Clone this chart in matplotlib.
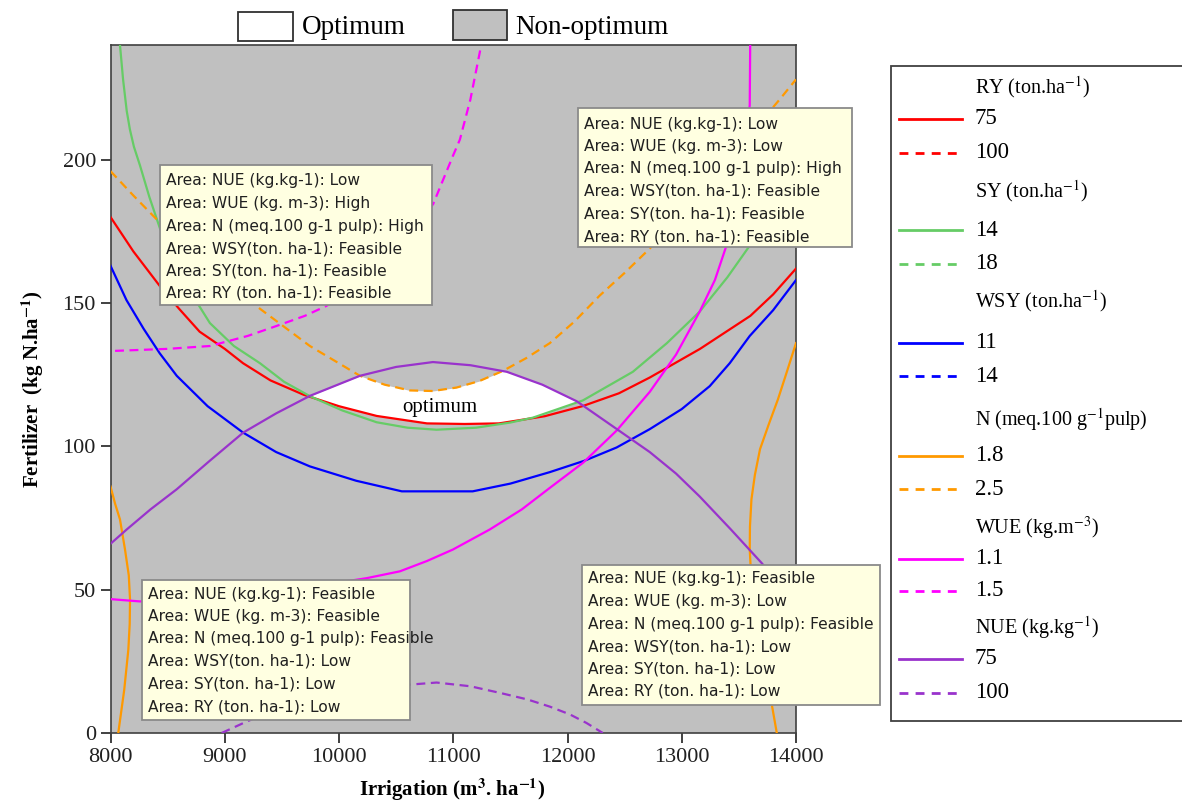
import numpy as np
import matplotlib
matplotlib.use('Agg')
import matplotlib.pyplot as plt
from matplotlib.patches import Rectangle
from matplotlib.lines import Line2D

plt.rcParams['font.family'] = 'Liberation Serif'
plt.rcParams['mathtext.fontset'] = 'stix'

# contour lines (irrigation, fertilizer)
ry75_x = [8000, 8200, 8430, 8600, 8780, 9000, 9160, 9400, 9690, 10000, 10330, 10770, 11100,
          11400, 11800, 12130, 12450, 12720, 13160, 13600, 13800, 14000]
ry75_y = [180, 168, 156, 148, 140, 134, 129, 123, 118, 114, 110.6, 108, 107.8,
          108, 110.5, 114, 118.5, 124, 134, 145.5, 153, 162]

sy14_x = [8075, 8083, 8110, 8142, 8170, 8205, 8258, 8340, 8433, 8650, 8870, 9080, 9308, 9520,
          9745, 10030, 10329, 10600, 10854, 11200, 11500, 11697, 12134, 12572, 12870, 13157,
          13400, 13595, 13800, 14000]
sy14_y = [245, 240, 228, 217, 210.5, 204.5, 198, 187, 176, 157, 143, 135, 129, 122.5,
          117.5, 112.5, 108.4, 106.5, 105.8, 106.5, 108.3, 110, 116, 126, 136, 147,
          159, 170, 182, 195]

wsy11_x = [8000, 8140, 8290, 8430, 8580, 8850, 9160, 9450, 9745, 10150, 10550, 11170, 11500,
           11845, 12150, 12430, 12720, 13000, 13245, 13420, 13595, 13800, 14000]
wsy11_y = [163, 151, 141, 132.5, 124.6, 114, 104.8, 98, 93, 88, 84.3, 84.3, 87,
           91, 95, 99.6, 106, 113, 121, 129, 138.5, 147.5, 158]

n18_left_x = [8000, 8040, 8083, 8127, 8160, 8171, 8168, 8156, 8120, 8068, 8060]
n18_left_y = [86, 80, 74.5, 64, 55, 46.5, 38, 29, 15, 0, -3]
n18_right_x = [14000, 13920, 13842, 13760, 13685, 13640, 13610, 13597, 13595, 13620, 13700,
               13770, 13832, 13838]
n18_right_y = [136, 126, 116.4, 107.5, 99, 90, 81.5, 72, 64, 45, 25, 14, 0, -2]

n25_x = [8000, 8200, 8433, 8870, 9308, 9745, 10183, 10400, 10620, 10820, 11029, 11230, 11434,
         11640, 11845, 12060, 12282, 12500, 12720, 13000, 13300, 13580, 13857, 14000]
n25_y = [196, 187.5, 178, 162, 148, 135, 124.6, 121.5, 119.5, 119.3, 120.5, 122.8, 126.3,
         130.8, 136, 143.5, 152.6, 160.5, 169, 181, 195, 208, 221, 228]

wue11_x = [8000, 8258, 9000, 9500, 10241, 10533, 10770, 10997, 11320, 11600, 11845, 12137,
           12430, 12720, 12950, 13157, 13290, 13391, 13530, 13595, 13600]
wue11_y = [46.7, 45.9, 47, 49.5, 54, 56.4, 60, 64, 71, 78, 85.5, 94.3,
           105.5, 119, 132, 147, 158, 170, 195, 219, 245]

wue15_x = [8040, 8500, 8870, 9200, 9454, 9700, 9891, 10400, 10650, 10825, 10999, 11058, 11150,
           11233, 11245]
wue15_y = [133.3, 134, 135, 138.5, 142, 145.5, 149, 163, 175, 184.6, 201.5, 207, 221,
           237.6, 241]

nue75_x = [8000, 8142, 8350, 8579, 8870, 9162, 9450, 9745, 10183, 10500, 10822, 11150, 11469,
           11780, 12082, 12432, 12720, 12950, 13157, 13430, 13697, 14000]
nue75_y = [66, 71, 78, 85, 95, 104.8, 111.5, 117.6, 124.6, 127.7, 129.4, 128.3, 126,
           121.5, 115.7, 106, 98, 90.5, 82.5, 71, 59.4, 45]

nue100_x = [8973, 9192, 9500, 10000, 10500, 10854, 11150, 11408, 11650, 11845, 12020, 12166,
            12309]
nue100_y = [0, 4, 9, 13.5, 16.5, 17.6, 16.3, 14, 11.7, 9.2, 6.5, 3.5, 0]

c_red, c_green, c_blue = '#FF0000', '#66CC66', '#0000FF'
c_orange, c_pink, c_purple = '#FF9900', '#FF00FF', '#9933CC'

# legend entries: header, solid value, dashed value, colour
legend_groups = [
    (r'RY (ton.ha$^{-1}$)', '75', '100', c_red),
    (r'SY (ton.ha$^{-1}$)', '14', '18', c_green),
    (r'WSY (ton.ha$^{-1}$)', '11', '14', c_blue),
    (r'N (meq.100 g$^{-1}$pulp)', '1.8', '2.5', c_orange),
    (r'WUE (kg.m$^{-3}$)', '1.1', '1.5', c_pink),
    (r'NUE (kg.kg$^{-1}$)', '75', '100', c_purple),
]

box_prefix = ['Area: NUE (kg.kg-1): ', 'Area: WUE (kg. m-3): ',
              'Area: N (meq.100 g-1 pulp): ', 'Area: WSY(ton. ha-1): ',
              'Area: SY(ton. ha-1): ', 'Area: RY (ton. ha-1): ']
box_states = [
    ['Low', 'High', 'High', 'Feasible', 'Feasible', 'Feasible'],
    ['Low', 'Low', 'High', 'Feasible', 'Feasible', 'Feasible'],
    ['Feasible', 'Feasible', 'Feasible', 'Low', 'Low', 'Low'],
    ['Feasible', 'Low', 'Feasible', 'Low', 'Low', 'Low'],
]

W, H = 1182, 801
fig = plt.figure(figsize=(W / 100, H / 100), dpi=100)


def fx(px):
    return px / W


def fy(py):
    return 1 - py / H


ax = fig.add_axes([fx(110.5), fy(733), fx(796) - fx(110.5), fy(45) - fy(733)])
ax.set_facecolor('#C0C0C0')

# optimum area between lower (RY, SY) and upper (NUE, N) limits
xs = np.linspace(9000, 13000, 1000)
lower = np.maximum(np.interp(xs, ry75_x, ry75_y), np.interp(xs, sy14_x, sy14_y))
upper = np.minimum(np.interp(xs, nue75_x, nue75_y), np.interp(xs, n25_x, n25_y))
ax.fill_between(xs, lower, upper, where=upper > lower, color='white', lw=0, zorder=1)
ax.text(10880, 113.5, 'optimum', fontsize=15, ha='center', va='center', zorder=2)

lw = 1.6
dash = (4, 2.5)
ax.plot(ry75_x, ry75_y, color=c_red, lw=lw, zorder=3)
ax.plot(sy14_x, sy14_y, color=c_green, lw=lw, zorder=3)
ax.plot(wsy11_x, wsy11_y, color=c_blue, lw=lw, zorder=3)
ax.plot(n18_left_x, n18_left_y, color=c_orange, lw=lw, zorder=3)
ax.plot(n18_right_x, n18_right_y, color=c_orange, lw=lw, zorder=3)
ax.plot(n25_x, n25_y, color=c_orange, lw=lw, dashes=dash, zorder=3)
ax.plot(wue11_x, wue11_y, color=c_pink, lw=lw, zorder=3)
ax.plot(wue15_x, wue15_y, color=c_pink, lw=lw, dashes=dash, zorder=3)
ax.plot(nue75_x, nue75_y, color=c_purple, lw=lw, zorder=3)
ax.plot(nue100_x, nue100_y, color=c_purple, lw=lw, dashes=dash, zorder=3)

ax.set_xlim(8000, 14000)
ax.set_ylim(0, 240)
ax.set_xticks(range(8000, 14001, 1000))
ax.set_yticks(range(0, 201, 50))
ax.tick_params(direction='out', length=7, width=1.2, labelsize=16, colors='#202020')
for sp in ax.spines.values():
    sp.set_color('#404040')
    sp.set_linewidth(1.2)

fig.text(fx(452), fy(790), r'Irrigation (m$^{\mathbf{3}}$. ha$^{\mathbf{-1}}$)',
         fontsize=15, fontweight='bold', ha='center', va='center')
fig.text(fx(33), fy(389), r'Fertilizer  (kg N.ha$^{\mathbf{-1}}$)',
         fontsize=15, fontweight='bold', ha='center', va='center', rotation=90)

# area annotation boxes
box_geom = [
    (160, 165, 432, 305, 181),
    (578, 108, 852, 247, 124),
    (142, 580, 410, 720, 594),
    (582, 565, 880, 705, 579),
]
for (x0, y0, x1, y1, t0), states in zip(box_geom, box_states):
    fig.patches.append(Rectangle((fx(x0), fy(y1)), fx(x1) - fx(x0), fy(y0) - fy(y1),
                                 transform=fig.transFigure, facecolor='#FFFFE1',
                                 edgecolor='#8A8A8A', lw=1.3, zorder=5))
    for i, (p, s) in enumerate(zip(box_prefix, states)):
        fig.text(fx(x0 + 6), fy(t0 + i * 22.5), p + s, family='DejaVu Sans',
                 fontsize=11.2, color='#202020', ha='left', va='center', zorder=6)

# top legend
fig.patches.append(Rectangle((fx(238), fy(41)), fx(293) - fx(238), fy(12) - fy(41),
                             transform=fig.transFigure, facecolor='white',
                             edgecolor='#303030', lw=1.3))
fig.patches.append(Rectangle((fx(453), fy(40)), fx(507) - fx(453), fy(10) - fy(40),
                             transform=fig.transFigure, facecolor='#C0C0C0',
                             edgecolor='#303030', lw=1.3))
fig.text(fx(302), fy(28), 'Optimum', fontsize=19.5, ha='left', va='center')
fig.text(fx(515), fy(27), 'Non-optimum', fontsize=19.5, ha='left', va='center')

# right legend
fig.patches.append(Rectangle((fx(891), fy(721)), fx(1195) - fx(891), fy(66) - fy(721),
                             transform=fig.transFigure, facecolor='white',
                             edgecolor='#404040', lw=1.3, zorder=1))
row_y = [(87, 119, 152.5), (191.5, 230.5, 264), (301.5, 343, 376.5),
         (420, 456, 489), (528, 559, 591), (628, 659, 693)]
for (hdr, v1, v2, col), (yh, ys, yd) in zip(legend_groups, row_y):
    fig.text(fx(975), fy(yh), hdr, fontsize=14.5, ha='left', va='center', zorder=3)
    fig.lines.append(Line2D([fx(899), fx(962)], [fy(ys), fy(ys)], transform=fig.transFigure,
                            color=col, lw=2, zorder=3))
    fig.lines.append(Line2D([fx(899), fx(962)], [fy(yd), fy(yd)], transform=fig.transFigure,
                            color=col, lw=2, dashes=(3.2, 2.6), zorder=3))
    fig.text(fx(975), fy(ys), v1, fontsize=16.5, ha='left', va='center', zorder=3)
    fig.text(fx(975), fy(yd), v2, fontsize=16.5, ha='left', va='center', zorder=3)

fig.savefig('out.png', dpi=100)
